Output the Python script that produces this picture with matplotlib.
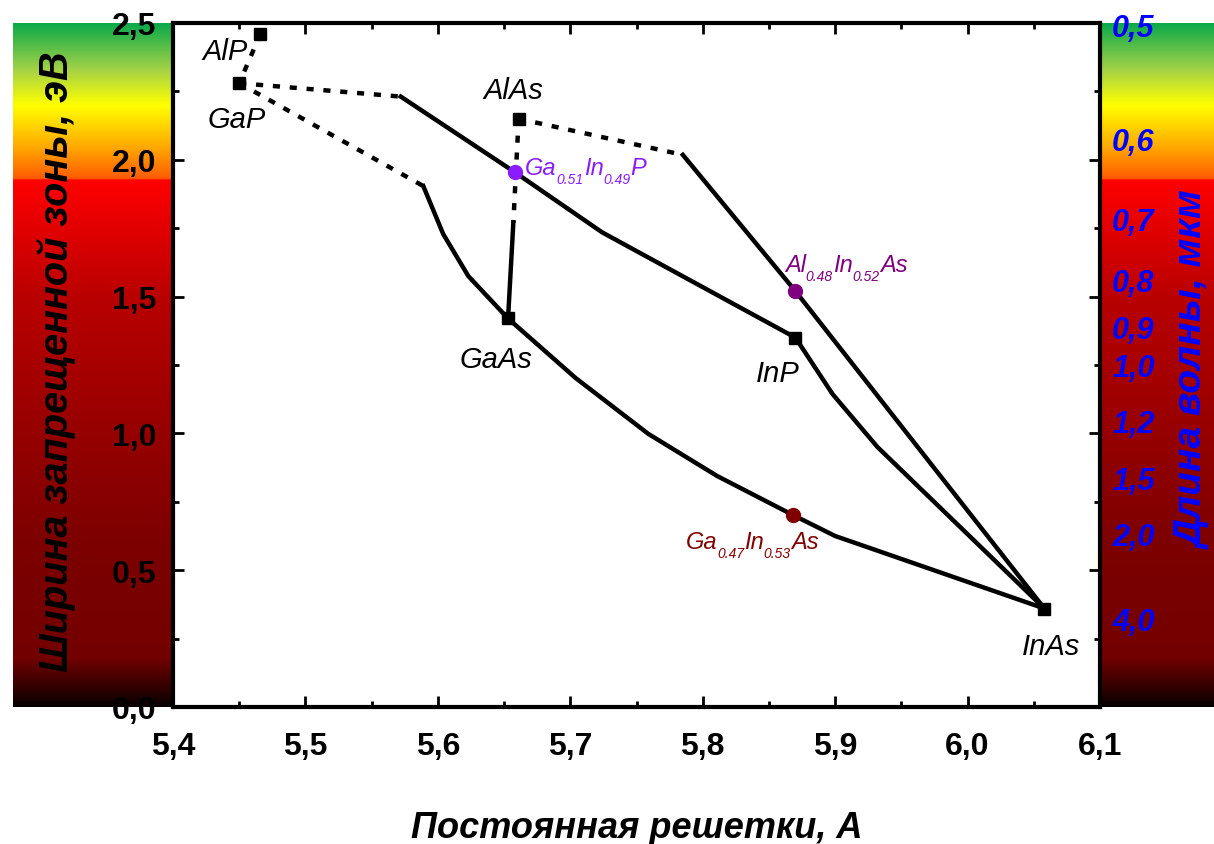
import numpy as np
import matplotlib.pyplot as plt
from matplotlib import font_manager
from matplotlib.transforms import ScaledTranslation
from matplotlib.ticker import MultipleLocator, FuncFormatter

# keep the condensed Liberation faces out of font matching
font_manager.fontManager.ttflist = [f for f in font_manager.fontManager.ttflist
                                    if 'Narrow' not in f.name and 'Narrow' not in f.fname]

plt.rcParams['font.family'] = 'Liberation Sans'

# binary compounds: lattice constant (A) and band gap (eV)
binary_names = ['AlP', 'GaP', 'AlAs', 'GaAs', 'InP', 'InAs']
binary_a = [5.466, 5.450, 5.661, 5.653, 5.870, 6.058]
binary_eg = [2.46, 2.28, 2.15, 1.42, 1.35, 0.36]
# label positions (centre x, baseline y)
binary_lx = [5.439, 5.448, 5.657, 5.644, 5.857, 6.063]
binary_ly = [2.368, 2.120, 2.226, 1.243, 1.192, 0.194]

# lattice-matched ternaries, formula split into (text, is_subscript) pieces
tern_parts = [
    [('Ga', 0), ('0.51', 1), ('In', 0), ('0.49', 1), ('P', 0)],
    [('Al', 0), ('0.48', 1), ('In', 0), ('0.52', 1), ('As', 0)],
    [('Ga', 0), ('0.47', 1), ('In', 0), ('0.53', 1), ('As', 0)],
]
tern_a = [5.658, 5.870, 5.868]
tern_eg = [1.955, 1.520, 0.702]
tern_colors = ['#8a1cff', '#800080', '#800000']
tern_lx = [5.666, 5.862, 5.787]
tern_ly = [1.948, 1.594, 0.581]

# ternary curves, indirect gap parts (dotted)
alp_gap_a, alp_gap_eg = [5.466, 5.450], [2.46, 2.28]
gap_inp_ind_a, gap_inp_ind_eg = [5.450, 5.572], [2.28, 2.231]
gap_gaas_ind_a, gap_gaas_ind_eg = [5.450, 5.589], [2.28, 1.904]
alas_gaas_ind_a, alas_gaas_ind_eg = [5.661, 5.657], [2.15, 1.77]
alas_inas_ind_a, alas_inas_ind_eg = [5.661, 5.785], [2.15, 2.018]

# direct gap parts (solid)
gap_inp_a = [5.572, 5.658, 5.724, 5.870]
gap_inp_eg = [2.231, 1.955, 1.735, 1.35]
gap_gaas_a = [5.589, 5.604, 5.623, 5.653]
gap_gaas_eg = [1.904, 1.729, 1.575, 1.42]
alas_gaas_a = [5.657, 5.653]
alas_gaas_eg = [1.77, 1.42]
alas_inas_a = [5.785, 5.870, 6.058]
alas_inas_eg = [2.018, 1.52, 0.36]
gaas_inas_a = [5.653, 5.704, 5.759, 5.811, 5.868, 5.900, 6.058]
gaas_inas_eg = [1.42, 1.2025, 0.998, 0.844, 0.702, 0.625, 0.36]
inp_inas_a = [5.870, 5.898, 5.932, 6.058]
inp_inas_eg = [1.35, 1.144, 0.950, 0.36]

# wavelength marks on the right side (um)
wavelengths = [0.5, 0.6, 0.7, 0.8, 0.9, 1.0, 1.2, 1.5, 2.0, 4.0]

# spectrum colours along the energy axis
spec_e = [0.0, 0.06, 0.18, 0.6, 1.0, 1.5, 1.929, 1.931, 2.05, 2.2, 2.33, 2.5]
spec_rgb = [(5, 0, 0), (45, 0, 0), (115, 0, 0), (125, 0, 0), (150, 0, 0),
            (185, 0, 0), (255, 0, 0), (255, 90, 0), (255, 170, 0),
            (255, 255, 0), (165, 210, 70), (10, 170, 75)]

fig = plt.figure(figsize=(12.14, 8.45), dpi=100)
L, R = 173 / 1214, 1100 / 1214
B, T = 137 / 845, 821 / 845

e = np.linspace(0, 2.5, 800)
rgb = np.array(spec_rgb, dtype=float) / 255
img = np.stack([np.interp(e, spec_e, rgb[:, i]) for i in range(3)], axis=1)
img = img[::-1, None, :]
for rect in ([0.0105, B, L - 0.0105, T - B], [R, B, 1 - R, T - B]):
    bax = fig.add_axes(rect)
    bax.imshow(img, aspect='auto', extent=(0, 1, 0, 2.5))
    bax.set_axis_off()

ax = fig.add_axes([L, B, R - L, T - B])
ax.set_facecolor('white')
ax.set_xlim(5.4, 6.1)
ax.set_ylim(0, 2.5)

dot = dict(color='black', lw=3.2, ls=(0, (1.6, 2.2)), solid_capstyle='butt')
sol = dict(color='black', lw=3.2, solid_joinstyle='miter')
for xa, ya in [(alp_gap_a, alp_gap_eg), (gap_inp_ind_a, gap_inp_ind_eg),
               (gap_gaas_ind_a, gap_gaas_ind_eg), (alas_gaas_ind_a, alas_gaas_ind_eg),
               (alas_inas_ind_a, alas_inas_ind_eg)]:
    ax.plot(xa, ya, **dot)
for xa, ya in [(gap_inp_a, gap_inp_eg), (gap_gaas_a, gap_gaas_eg),
               (alas_gaas_a, alas_gaas_eg), (alas_inas_a, alas_inas_eg),
               (gaas_inas_a, gaas_inas_eg), (inp_inas_a, inp_inas_eg)]:
    ax.plot(xa, ya, **sol)

ax.plot(binary_a, binary_eg, ls='none', marker='s', ms=9, color='black', zorder=5)
for name, x, y in zip(binary_names, binary_lx, binary_ly):
    ax.text(x, y, name, fontsize=21, style='italic', ha='center', va='baseline')

renderer = fig.canvas.get_renderer()
for parts, x, y, c, lx, ly in zip(tern_parts, tern_a, tern_eg, tern_colors, tern_lx, tern_ly):
    ax.plot(x, y, ls='none', marker='o', ms=10, color=c, zorder=5)
    off = 0.0
    for txt, sub in parts:
        shift = ScaledTranslation(off / 72, (-6.5 if sub else 0) / 72, fig.dpi_scale_trans)
        t = ax.text(lx, ly, txt, transform=ax.transData + shift,
                    fontsize=10 if sub else 17, style='italic', color=c,
                    ha='left', va='baseline')
        off += t.get_window_extent(renderer).width * 72 / fig.dpi

ax.xaxis.set_major_locator(MultipleLocator(0.1))
ax.xaxis.set_minor_locator(MultipleLocator(0.05))
ax.yaxis.set_major_locator(MultipleLocator(0.5))
ax.yaxis.set_minor_locator(MultipleLocator(0.25))
comma = FuncFormatter(lambda v, p: f'{v:.1f}'.replace('.', ','))
ax.xaxis.set_major_formatter(comma)
ax.yaxis.set_major_formatter(comma)
ax.tick_params(which='both', direction='in', top=True, right=True, width=2)
ax.tick_params(which='major', length=8, labelsize=23)
ax.tick_params(which='minor', length=4)
ax.tick_params(axis='x', pad=17)
ax.tick_params(axis='y', pad=12)
for lab in ax.get_xticklabels() + ax.get_yticklabels():
    lab.set_fontweight('bold')
for sp in ax.spines.values():
    sp.set_linewidth(3)

for w in wavelengths:
    ax.text(1.013, 1.24 / w, f'{w:.1f}'.replace('.', ','), transform=ax.get_yaxis_transform(),
            fontsize=22, color='blue', weight='bold', style='italic', ha='left', va='center',
            clip_on=False)

ax.set_xlabel('Постоянная решетки, А', fontsize=26, weight='bold', style='italic')
ax.xaxis.set_label_coords(0.5, -0.15)
ax.text(-0.126, 0.507, 'Ширина запрещенной зоны, эВ', transform=ax.transAxes, rotation=90,
        fontsize=28.5, weight='bold', style='italic', ha='center', va='center')
ax.text(1.101, 0.494, 'Длина волны, мкм', transform=ax.transAxes, rotation=90,
        fontsize=28, weight='bold', style='italic', color='blue', ha='center', va='center')

fig.savefig('out.png', dpi=100)
